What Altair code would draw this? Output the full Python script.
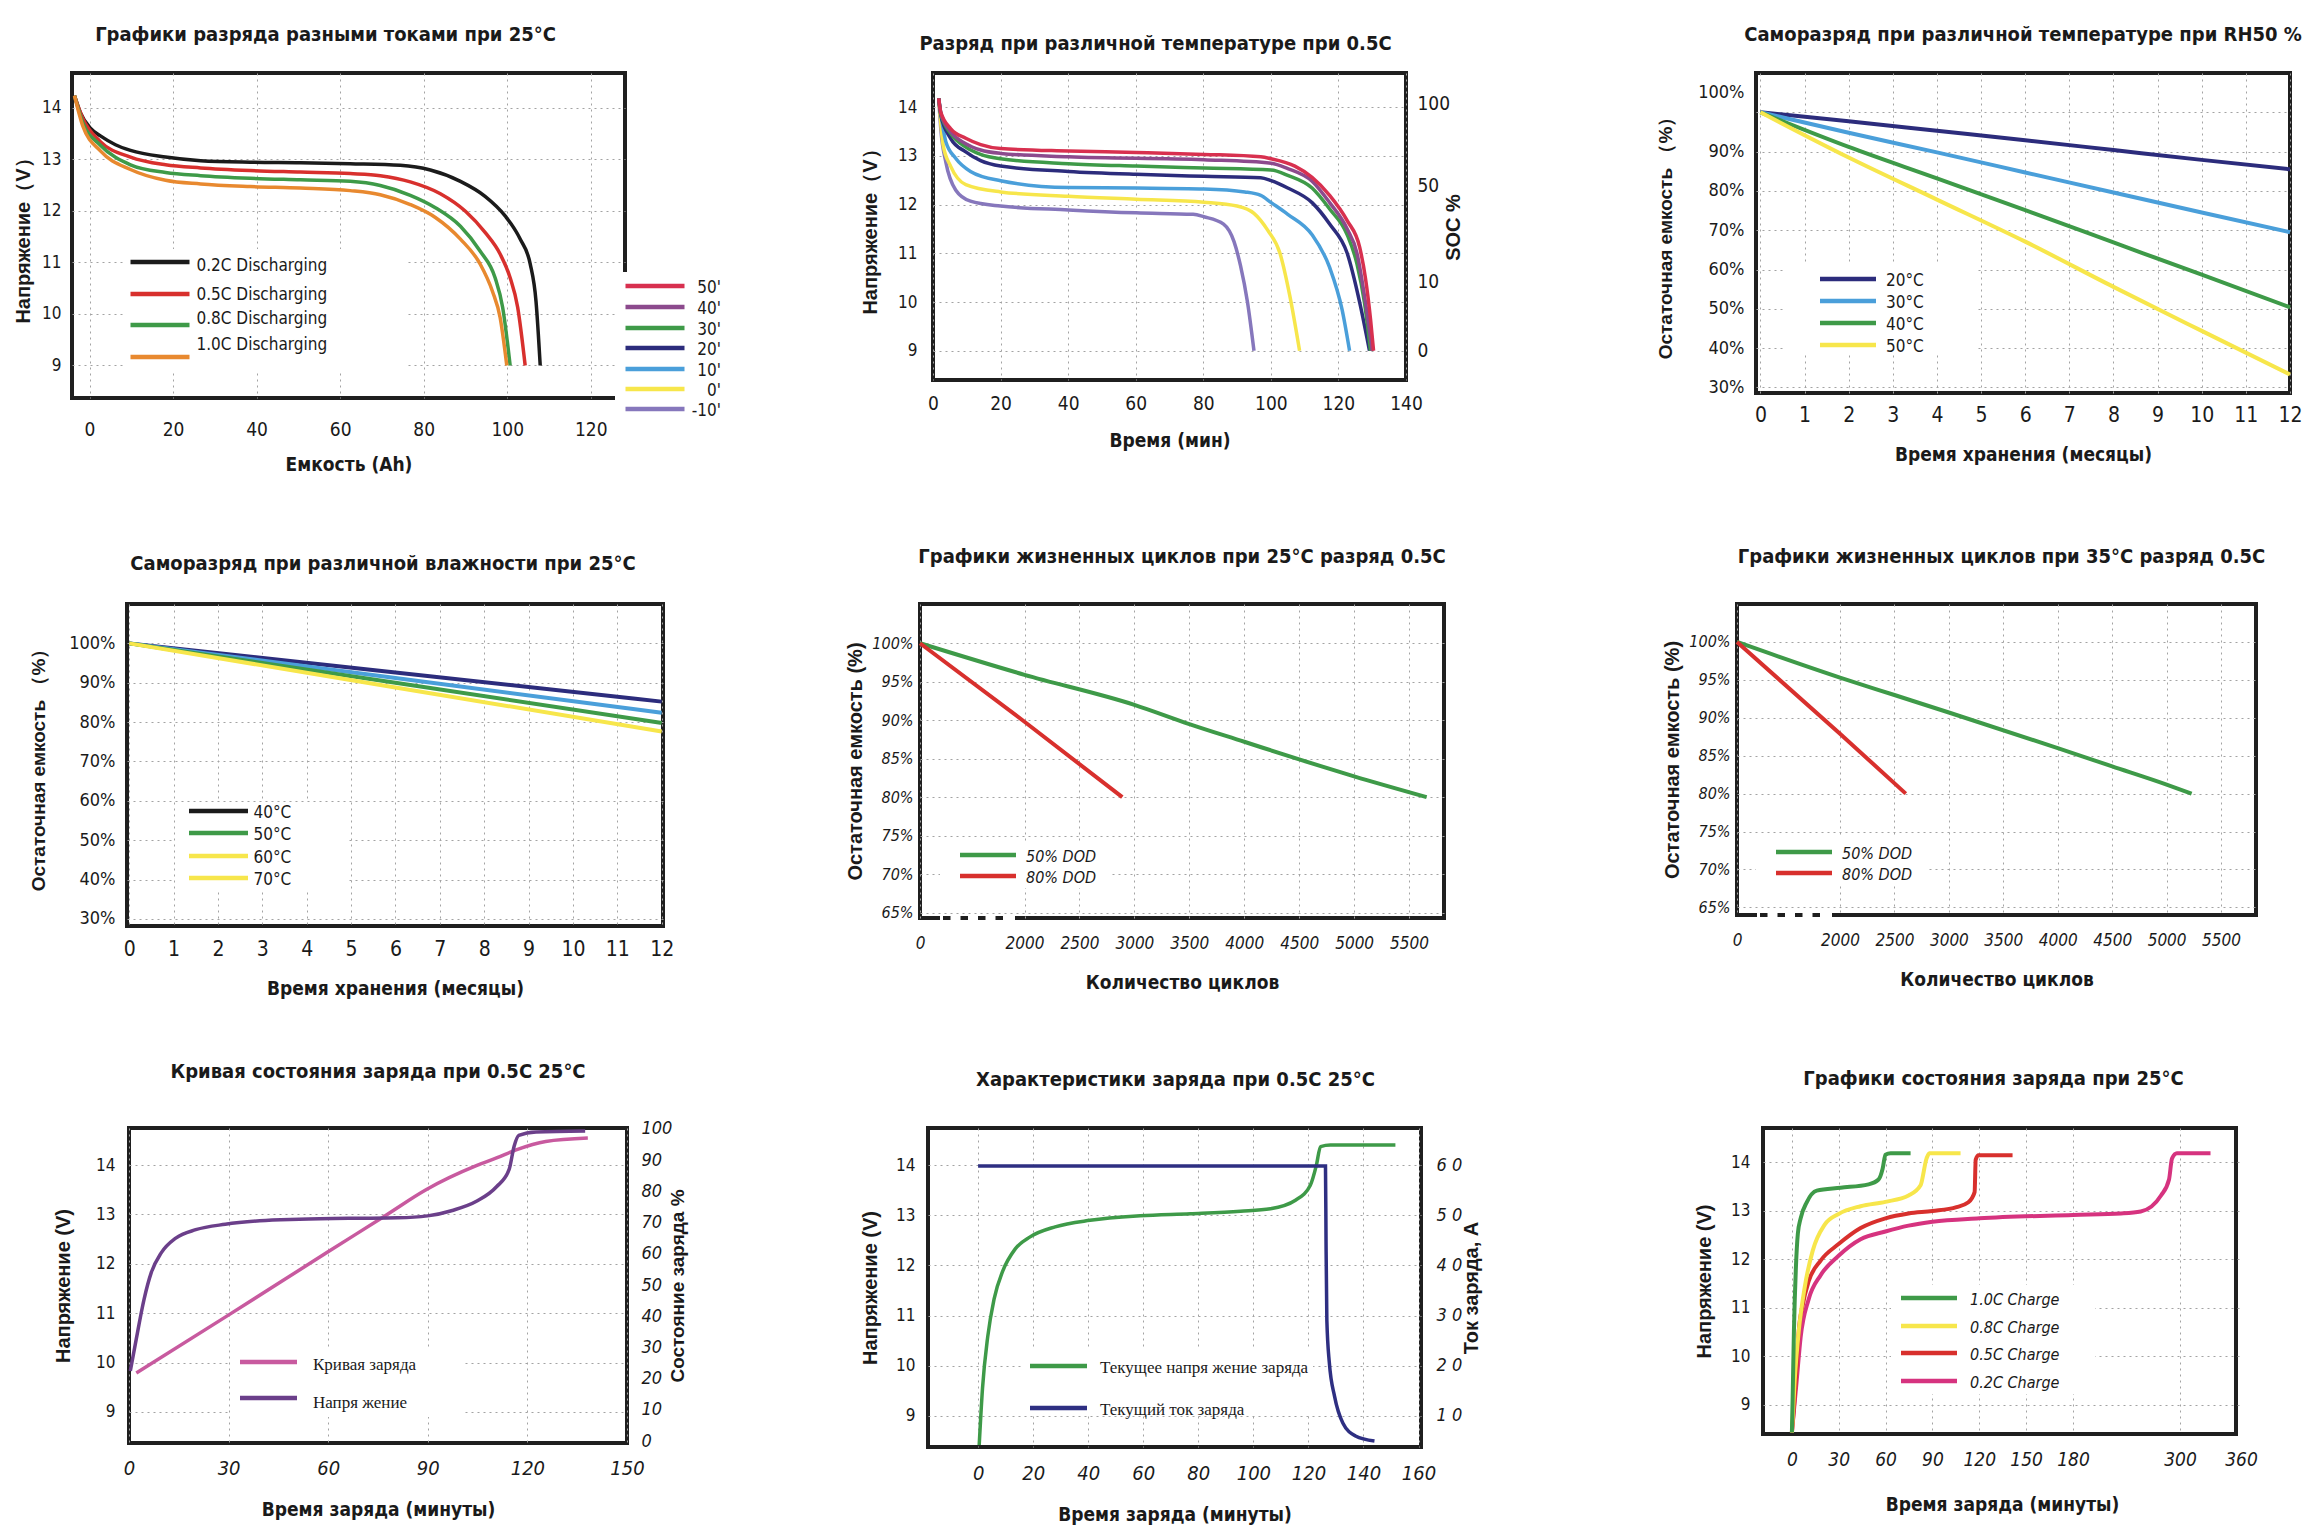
import altair as alt
import pandas as pd

COND = "DejaVu Sans Condensed, Liberation Sans Narrow, Roboto Condensed, Roboto, sans-serif"
SANSB = "Liberation Sans, Arial, DejaVu Sans, sans-serif"
SERIF = "Liberation Serif, DejaVu Serif, serif"
TXT = "#1a1a1a"
GRID = "#a3a3a3"
FRAME = "#1f1f1f"

# ---------------- Panel 1: discharge at different currents ----------------
p1_names = ["0.2C", "0.5C", "0.8C", "1.0C"]
p1_colors = ["#1b1b1b", "#d8302d", "#3e9a48", "#e8892f"]
p1_x_02 = [-3.6, -2.2, 0.2, 2.6, 6.2, 9.8, 18.2, 26.6, 38.5, 50.5, 62.4, 74.4, 81.6, 88.8, 94.7, 99.5, 103.1, 105.5, 106.9, 107.9]
p1_v_02 = [14.23, 13.9, 13.6, 13.45, 13.28, 13.17, 13.04, 12.97, 12.94, 12.93, 12.91, 12.88, 12.79, 12.57, 12.28, 11.9, 11.45, 10.97, 10.24, 9.0]
p1_x_05 = [-3.6, -1.6, 2.6, 9.8, 18.2, 26.6, 38.5, 50.5, 62.4, 69.6, 76.8, 84.0, 90.0, 94.7, 98.3, 100.7, 102.5, 104.3]
p1_v_05 = [14.23, 13.79, 13.34, 13.04, 12.89, 12.83, 12.78, 12.75, 12.72, 12.68, 12.56, 12.33, 11.99, 11.58, 11.16, 10.7, 10.13, 9.0]
p1_x_08 = [-3.6, -1.6, 2.6, 9.8, 18.2, 26.6, 38.5, 50.5, 62.4, 69.6, 76.8, 82.8, 88.8, 93.5, 97.1, 98.9, 100.7]
p1_v_08 = [14.23, 13.71, 13.27, 12.89, 12.74, 12.68, 12.63, 12.6, 12.57, 12.49, 12.3, 12.06, 11.7, 11.22, 10.7, 10.13, 9.0]
p1_x_10 = [-3.6, -1.6, 2.6, 9.8, 18.2, 26.6, 38.5, 50.5, 62.4, 69.6, 76.8, 82.8, 88.8, 93.5, 96.5, 98.3, 99.9]
p1_v_10 = [14.23, 13.64, 13.16, 12.8, 12.59, 12.52, 12.47, 12.44, 12.39, 12.31, 12.12, 11.87, 11.45, 10.97, 10.43, 9.93, 9.0]
p1_x_ticks = [0, 20, 40, 60, 80, 100, 120]
p1_y_ticks = [9, 10, 11, 12, 13, 14]
p1_legend = ["0.2C Discharging", "0.5C Discharging", "0.8C Discharging", "1.0C Discharging"]
p1_temp_labels = ["50'", "40'", "30'", "20'", "10'", "0'", "-10'"]
p1_temp_colors = ["#d8304f", "#8c4a8d", "#3e9a48", "#2c2c7c", "#4a9fda", "#f7e64b", "#8677bc"]

# ---------------- Panel 2: discharge at different temperatures ----------------
p2_names = ["-10", "0", "10", "20", "30", "40", "50"]
p2_colors = ["#8677bc", "#f7e64b", "#4a9fda", "#2c2c7c", "#3e9a48", "#8c4a8d", "#d8304f"]
p2_x_m10 = [1.7, 2.3, 3.8, 6.7, 11.1, 20, 40.1, 60.1, 77, 80.2, 86, 89.1, 91, 93.1, 95]
p2_v_m10 = [14.18, 13.56, 12.87, 12.3, 12.07, 11.97, 11.89, 11.83, 11.8, 11.75, 11.6, 11.24, 10.75, 9.99, 9.0]
p2_x_0 = [1.7, 3.0, 5.2, 9.7, 20, 40.1, 60.1, 80.2, 90, 95, 99, 102.7, 105.6, 108.5]
p2_v_0 = [14.18, 13.22, 12.79, 12.41, 12.26, 12.17, 12.11, 12.05, 11.97, 11.82, 11.48, 11.0, 10.13, 9.0]
p2_x_10 = [1.7, 3.8, 6.7, 11.1, 20, 40.1, 60.1, 80.2, 92.3, 97, 100.1, 105, 112.2, 117.4, 121.1, 123.3]
p2_v_10 = [14.18, 13.29, 12.95, 12.68, 12.49, 12.35, 12.34, 12.32, 12.26, 12.19, 12.04, 11.8, 11.38, 10.71, 9.84, 9.0]
p2_x_20 = [1.7, 2.3, 5.2, 9.7, 14.1, 20, 40.1, 60.1, 80.2, 97, 100.1, 105, 112.2, 117.4, 122.6, 126.3, 129.2]
p2_v_20 = [14.18, 13.84, 13.36, 13.08, 12.9, 12.79, 12.68, 12.62, 12.58, 12.55, 12.49, 12.34, 12.04, 11.6, 11.0, 9.99, 9.0]
p2_x_30 = [1.7, 2.3, 5.2, 9.7, 14.1, 20, 40.1, 60.1, 80.2, 100.1, 105, 112.2, 117.4, 122.6, 125.5, 127.7, 129.5]
p2_v_30 = [14.18, 13.86, 13.46, 13.18, 13.03, 12.94, 12.84, 12.79, 12.75, 12.71, 12.6, 12.34, 11.91, 11.38, 10.78, 9.99, 9.0]
p2_x_40 = [1.7, 2.3, 5.2, 9.7, 14.1, 20, 40.1, 80.2, 100.1, 105, 112.2, 117.4, 122.6, 125.5, 127.7, 130]
p2_v_40 = [14.18, 13.88, 13.5, 13.25, 13.12, 13.05, 12.98, 12.92, 12.85, 12.74, 12.48, 12.04, 11.5, 11.0, 10.13, 9.0]
p2_x_50 = [1.7, 2.3, 5.2, 9.7, 14.1, 20, 40.1, 60.1, 80.2, 97, 100.1, 107.1, 112.2, 117.4, 122.6, 126.3, 128, 129.5, 130.4]
p2_v_50 = [14.18, 13.9, 13.56, 13.36, 13.23, 13.15, 13.1, 13.07, 13.03, 12.98, 12.94, 12.79, 12.56, 12.19, 11.67, 11.12, 10.49, 9.65, 9.0]
p2_x_ticks = [0, 20, 40, 60, 80, 100, 120, 140]
p2_y_ticks = [9, 10, 11, 12, 13, 14]
p2_soc_ticks = [0, 10, 50, 100]
p2_soc_volts = [9.0, 10.42, 12.39, 14.08]

# ---------------- Panel 3: self discharge vs temperature ----------------
p3_names = ["20", "30", "40", "50"]
p3_colors = ["#2c2c7c", "#4a9fda", "#3e9a48", "#f7e64b"]
p3_months = [0, 2, 4, 6, 8, 10, 12]
p3_t20 = [100, 97.7, 95.3, 92.9, 90.4, 87.9, 85.5]
p3_t30 = [100, 94.8, 89.8, 84.7, 79.6, 74.5, 69.5]
p3_t40 = [100, 91.2, 83.2, 75.1, 66.9, 58.7, 50.4]
p3_t50 = [100, 88.5, 77.8, 67.1, 55.6, 44.4, 33.3]
p3_legend = ["20°C", "30°C", "40°C", "50°C"]
pct_ticks = [30, 40, 50, 60, 70, 80, 90, 100]
month_ticks = list(range(13))

# ---------------- Panel 4: self discharge vs humidity ----------------
p4_names = ["a", "b", "c", "d"]
p4_colors = ["#2c2c7c", "#4a9fda", "#3e9a48", "#f7e64b"]
p4_months = [0, 6, 12]
p4_h1 = [100, 92.6, 85.2]
p4_h2 = [100, 91.2, 82.4]
p4_h3 = [100, 90.0, 79.8]
p4_h4 = [100, 88.8, 77.6]
p4_legend = ["40°C", "50°C", "60°C", "70°C"]
p4_legend_colors = ["#1b1b1b", "#3e9a48", "#f7e64b", "#f7e64b"]

# ---------------- Panels 5/6: cycle life ----------------
cyc_names = ["50% DOD", "80% DOD"]
cyc_colors = ["#3e9a48", "#d8302d"]
p5_c50 = [0, 2000, 3000, 3500, 4000, 4500, 5000, 5660]
p5_r50 = [100, 95.9, 92.0, 89.5, 87.2, 84.9, 82.7, 80.0]
p5_c80 = [0, 2000, 2890]
p5_r80 = [100, 89.8, 80.0]
p6_c50 = [0, 2000, 2500, 3000, 4000, 4500, 5000, 5230]
p6_r50 = [100, 95.3, 93.0, 90.7, 86.0, 83.6, 81.2, 80.0]
p6_c80 = [0, 2000, 2604]
p6_r80 = [100, 87.9, 80.0]
cyc_x_ticks = [0, 2000, 2500, 3000, 3500, 4000, 4500, 5000, 5500]
cyc_y_ticks = [65, 70, 75, 80, 85, 90, 95, 100]
cyc_legend = ["50% DOD", "80%  DOD"]

# ---------------- Panel 7: state of charge curve ----------------
p7_t_v = [0.4, 2.2, 4.5, 6.7, 9.7, 14.1, 20.1, 29, 39.4, 51.3, 66.1, 81, 89.9, 97.4, 104.8, 110.7, 114.5, 116, 117.4, 122.6, 137.4]
p7_v = [9.83, 10.48, 11.27, 11.82, 12.22, 12.52, 12.69, 12.8, 12.87, 12.9, 12.92, 12.93, 12.97, 13.08, 13.27, 13.56, 13.91, 14.38, 14.6, 14.67, 14.69]
p7_t_soc = [2.2, 29.7, 59.6, 77.3, 89.6, 104.8, 110.7, 116.6, 125.5, 138.2]
p7_soc = [21.8, 40.2, 60.4, 72.3, 80.6, 88.3, 90.7, 93.3, 96.0, 97.1]
p7_x_ticks = [0, 30, 60, 90, 120, 150]
p7_y_ticks = [9, 10, 11, 12, 13, 14]
p7_soc_ticks = [0, 10, 20, 30, 40, 50, 60, 70, 80, 90, 100]
p7_legend = ["Кривая заряда", "Напря жение"]
p7_colors = ["#c85a9f", "#6b3f8a"]

# ---------------- Panel 8: charge characteristics ----------------
p8_t_v = [0.4, 1.6, 3.5, 5.8, 8.9, 13.5, 18.9, 28, 40.7, 58.9, 77.1, 95.3, 106.2, 115.3, 120.7, 122.9, 124.4, 128, 151.6]
p8_v = [8.42, 9.55, 10.58, 11.33, 11.88, 12.33, 12.57, 12.77, 12.9, 12.99, 13.03, 13.08, 13.13, 13.3, 13.6, 14.0, 14.37, 14.4, 14.4]
p8_t_a = [0, 126.2, 126.4, 126.7, 127.6, 129.5, 132.5, 137.1, 144]
p8_a = [59.8, 59.8, 44.7, 29.0, 20.6, 13.9, 8.6, 6.0, 5.0]
p8_x_ticks = [0, 20, 40, 60, 80, 100, 120, 140, 160]
p8_y_ticks = [9, 10, 11, 12, 13, 14]
p8_a_ticks = [10, 20, 30, 40, 50, 60]
p8_legend = ["Текущее напря жение заряда", "Текущий ток заряда"]
p8_colors = ["#3e9a48", "#2e2f82"]

# ---------------- Panel 9: charge at different currents ----------------
p9_names = ["0.2C", "0.5C", "0.8C", "1.0C"]
p9_colors = ["#d6337f", "#d8302d", "#f7e64b", "#3e9a48"]
p9_t_10 = [0, 0.5, 1.3, 2.6, 3.8, 5.6, 9.5, 15.9, 31.2, 49.1, 55.5, 58.1, 59.9, 63.2, 76]
p9_v_10 = [8.43, 9.17, 10.52, 11.85, 12.52, 12.84, 13.17, 13.41, 13.47, 13.54, 13.64, 13.86, 14.15, 14.18, 14.18]
p9_t_08 = [0, 1.8, 4.4, 8.2, 13.3, 21, 29.9, 44, 59.9, 74.7, 82.4, 86.2, 88, 108]
p9_v_08 = [8.43, 9.51, 10.52, 11.42, 12.17, 12.71, 12.93, 13.09, 13.18, 13.31, 13.52, 14.07, 14.18, 14.18]
p9_t_05 = [0, 1.8, 3.1, 4.4, 6.9, 10.7, 18.4, 29.9, 44, 59.9, 74.7, 90, 105.4, 113, 117, 117.7, 119.5, 141.3]
p9_v_05 = [8.43, 9.17, 9.85, 10.52, 11.05, 11.54, 11.97, 12.31, 12.64, 12.84, 12.94, 12.99, 13.07, 13.17, 13.38, 14.05, 14.14, 14.14]
p9_t_02 = [0, 3.1, 5.6, 10.7, 18.4, 29.9, 44, 59.9, 74.7, 90, 120, 180, 233.8, 256, 278.7, 287.7, 291, 296.6, 330]
p9_v_02 = [8.43, 9.51, 10.39, 11.17, 11.67, 12.07, 12.41, 12.57, 12.69, 12.77, 12.84, 12.91, 12.94, 12.98, 13.31, 13.64, 14.07, 14.18, 14.18]
p9_x_ticks = [0, 30, 60, 90, 120, 150, 180, 300, 360]
p9_y_ticks = [9, 10, 11, 12, 13, 14]
p9_legend = ["1.0C Charge", "0.8C Charge", "0.5C Charge", "0.2C Charge"]
p9_legend_colors = ["#3e9a48", "#f7e64b", "#d8302d", "#d6337f"]


# ---------------- helpers ----------------
def long_df(names, xs, ys):
    rows = []
    for n, xv, yv in zip(names, xs, ys):
        for k, (a, b) in enumerate(zip(xv, yv)):
            rows.append({"s": n, "x": a, "y": b, "i": k})
    return pd.DataFrame(rows)


def axis(values, title, **kw):
    base = dict(values=values, title=title, grid=True, gridDash=[2, 4], gridColor=GRID, gridWidth=1,
                domain=False, ticks=False, labelFont=COND, labelFontSize=17, labelColor=TXT,
                titleFont=SANSB, titleFontSize=19, titleFontWeight="bold", titleColor=TXT,
                labelPadding=8, titlePadding=10, labelFlush=False, labelOverlap=False)
    base.update(kw)
    return alt.Axis(**base)


def lin(domain, rng=None):
    if rng is None:
        return alt.Scale(domain=domain, nice=False, zero=False)
    return alt.Scale(domain=domain, range=rng, nice=False, zero=False)


def line_layer(df, names, colors, xs, ys, xa, ya, sw=3.5):
    return alt.Chart(df).mark_line(strokeWidth=sw, interpolate="monotone").encode(
        x=alt.X("x:Q", scale=xs, axis=xa),
        y=alt.Y("y:Q", scale=ys, axis=ya),
        color=alt.Color("s:N", scale=alt.Scale(domain=names, range=colors), legend=None),
        order="i:Q",
    )


def white_box(x1, x2, y1, y2):
    return alt.Chart(pd.DataFrame({"a": [0]})).mark_rect(color="white").encode(
        x=alt.value(x1), x2=alt.value(x2), y=alt.value(y1), y2=alt.value(y2))


def legend(labels, colors, x1, x2, tx, line_ys, text_ys, font=COND, size=17, style="normal",
           sw=4.5, align="left"):
    out = []
    for label, color, ly, ty in zip(labels, colors, line_ys, text_ys):
        d = pd.DataFrame({"t": [label]})
        out.append(alt.Chart(d).mark_rule(color=color, strokeWidth=sw, strokeCap="butt").encode(
            x=alt.value(x1), x2=alt.value(x2), y=alt.value(ly)))
        out.append(alt.Chart(d).mark_text(align=align, baseline="middle", font=font, fontSize=size,
                                          fontStyle=style, color=TXT).encode(
            x=alt.value(tx), y=alt.value(ty), text="t:N"))
    return out


def ttl(text, dx, offset):
    return alt.TitleParams(text=text, font=COND, fontSize=20, fontWeight="bold", color=TXT,
                           anchor="middle", dx=dx, offset=offset)


def panel(layers, w, h, title, indep=False):
    ch = alt.layer(*layers).properties(width=w, height=h, title=title,
                                       view=alt.ViewBackground(stroke=FRAME, strokeWidth=4))
    if indep:
        ch = ch.resolve_scale(y="independent")
    return ch


def spacer(w, h=10):
    return alt.Chart(pd.DataFrame({"a": [0]})).mark_rect(opacity=0).encode(
        x=alt.value(0), x2=alt.value(w), y=alt.value(0), y2=alt.value(h)).properties(
        width=w, height=h, view=alt.ViewBackground(stroke="transparent"))


def yaxis_pct(values, title, **kw):
    return axis(values, title, labelExpr="datum.value + '%'", **kw)


# ---------------- Panel 1 ----------------
W1, H1 = 553, 325
d1 = long_df(p1_names, [p1_x_02, p1_x_05, p1_x_08, p1_x_10], [p1_v_02, p1_v_05, p1_v_08, p1_v_10])
c1 = panel(
    [white_box(52, 333, 176, 297),
     white_box(543, 560, 199, 331),
     line_layer(d1, p1_names, p1_colors, lin([-4.2, 128.2]), lin([8.37, 14.67]),
                axis(p1_x_ticks, "Емкость (Ah)", labelFontSize=19, labelPadding=22, titlePadding=16,
                     titleFont=COND, titleFontSize=19),
                axis(p1_y_ticks, "Напряжение（V）", labelFontSize=17, labelPadding=11, titlePadding=8,
                     titleFontSize=20))]
    + legend(p1_legend, p1_colors, 58.5, 117.5, 124.5, [189, 221, 252, 284], [193, 222, 246, 272])
    + legend(p1_temp_labels, p1_temp_colors, 553.5, 612.5, 649, [213, 234, 255, 275, 296, 316, 336],
             [215, 236, 257, 277, 298, 318, 338], align="right"),
    W1, H1, ttl("Графики разряда разными токами при 25°C", -23, 28))

# ---------------- Panel 2 ----------------
W2, H2 = 473, 307
Y2 = [8.4, 14.7]
d2 = long_df(p2_names, [p2_x_m10, p2_x_0, p2_x_10, p2_x_20, p2_x_30, p2_x_40, p2_x_50],
             [p2_v_m10, p2_v_0, p2_v_10, p2_v_20, p2_v_30, p2_v_40, p2_v_50])
soc_range = [H2 * (Y2[1] - v) / (Y2[1] - Y2[0]) for v in p2_soc_volts]
c2 = panel(
    [line_layer(d2, p2_names, p2_colors, lin([0, 140]), lin(Y2),
                axis(p2_x_ticks, "Время (мин)", labelFontSize=19, labelPadding=14, titlePadding=18,
                     titleFont=COND, titleFontSize=19),
                axis(p2_y_ticks, "Напряжение（V）", labelFontSize=17, labelPadding=16, titlePadding=17,
                     titleFontSize=20)),
     alt.Chart(pd.DataFrame({"soc": p2_soc_ticks})).mark_point(opacity=0).encode(
         y=alt.Y("soc:Q", scale=lin(p2_soc_ticks, soc_range),
                 axis=axis(p2_soc_ticks, "SOC %", orient="right", grid=False, labelFontSize=19,
                           labelPadding=11, titlePadding=14, titleAngle=270, titleFontSize=20)))],
    W2, H2, ttl("Разряд при различной температуре при 0.5C", -14, 19), indep=True)

# ---------------- Panel 3 ----------------
W3, H3 = 534, 320
d3 = long_df(p3_names, [p3_months] * 4, [p3_t20, p3_t30, p3_t40, p3_t50])
c3 = panel(
    [white_box(30, 220, 192, 282),
     line_layer(d3, p3_names, p3_colors, lin([-0.1, 12.0]), lin([28.6, 110]),
                axis(month_ticks, "Время хранения (месяцы)", labelFontSize=21, labelPadding=11,
                     titlePadding=20, titleFont=COND, titleFontSize=19),
                yaxis_pct(pct_ticks, "Остаточная емкость （%）", labelFontSize=18, labelPadding=12,
                          titlePadding=22,
                          labelOffset={"condition": {"test": "datum.value == 100", "value": -20},
                                       "value": 0}),
                sw=4)]
    + legend(p3_legend, p3_colors, 64, 120, 130, [206, 228, 250, 272], [208, 230, 252, 274]),
    W3, H3, ttl("Саморазряд при различной температуре  при RH50 %", 0, 28))

# ---------------- Panel 4 ----------------
W4, H4 = 536, 322
d4 = long_df(p4_names, [p4_months] * 4, [p4_h1, p4_h2, p4_h3, p4_h4])
c4 = panel(
    [white_box(48, 222, 198, 286),
     line_layer(d4, p4_names, p4_colors, lin([-0.05, 12.03]), lin([28.2, 110]),
                axis(month_ticks, "Время хранения (месяцы)", labelFontSize=21, labelPadding=12,
                     titlePadding=20, titleFont=COND, titleFontSize=19),
                yaxis_pct(pct_ticks, "Остаточная емкость （%）", labelFontSize=18, labelPadding=12,
                          titlePadding=20),
                sw=4)]
    + legend(p4_legend, p4_legend_colors, 62, 121, 126.5, [207, 229, 252, 274], [209, 231, 254, 276]),
    W4, H4, ttl("Саморазряд при различной влажности при 25°C", -12, 30))


# ---------------- Panels 5/6 ----------------
def cycle_panel(w, h, c50, r50, c80, r80, xdom, xrng, ydom, title, dx, offset, leg_x1, leg_tx, leg_y):
    d = long_df(cyc_names, [c50, c80], [r50, r80])
    layers = [
        white_box(leg_x1 - 20, leg_x1 + 150, leg_y[0] - 14, leg_y[1] + 12),
        line_layer(d, cyc_names, cyc_colors, lin(xdom, xrng), lin(ydom),
                   axis(cyc_x_ticks, "Количество циклов", format="d", labelFontSize=17,
                        labelFontStyle="italic", labelPadding=17, titlePadding=22, titleFont=COND,
                        titleFontSize=19),
                   yaxis_pct(cyc_y_ticks, "Остаточная емкость (%)", labelFontSize=16,
                             labelFontStyle="italic", labelPadding=7, titlePadding=6, titleFontSize=20),
                   sw=4),
        alt.Chart(pd.DataFrame({"a": [0]})).mark_rule(color="white", strokeWidth=6).encode(
            x=alt.value(20), x2=alt.value(95), y=alt.value(h)),
        alt.Chart(pd.DataFrame({"a": [0]})).mark_rule(color=FRAME, strokeWidth=4, strokeDash=[7.5, 10]).encode(
            x=alt.value(23), x2=alt.value(93), y=alt.value(h)),
    ]
    layers += legend(cyc_legend, cyc_colors, leg_x1, leg_x1 + 56, leg_tx, leg_y, [leg_y[0] + 2, leg_y[1] + 2],
                     size=16, style="italic")
    return panel(layers, w, h, ttl(title, dx, offset))


W5, H5 = 524, 314
c5 = cycle_panel(W5, H5, p5_c50, p5_r50, p5_c80, p5_r80, [0, 2000, 5818], [0, 104.5, W5],
                 [64.3, 105.1], "Графики жизненных циклов при 25°C  разряд 0.5C", 0, 37, 40, 106, [251, 272])
W6, H6 = 519, 311
c6 = cycle_panel(W6, H6, p6_c50, p6_r50, p6_c80, p6_r80, [0, 2000, 5821], [0, 103, W6],
                 [64.0, 105.0], "Графики жизненных циклов при 35°C разряд 0.5C", 5, 37, 39, 105, [248, 269])

# ---------------- Panel 7 ----------------
W7, H7 = 498, 315
d7v = long_df(["v"], [p7_t_v], [p7_v])
d7s = long_df(["s"], [p7_t_soc], [p7_soc])
xs7 = lin([0, 150])
xa7 = axis(p7_x_ticks, "Время заряда (минуты)", labelFontSize=20, labelFontStyle="italic", labelPadding=15,
           titlePadding=22, titleFont=COND, titleFontSize=19)
c7 = panel(
    [white_box(102, 335, 220, 289),
     alt.Chart(d7s).mark_line(strokeWidth=3.5, interpolate="monotone", color=p7_colors[0]).encode(
         x=alt.X("x:Q", scale=xs7, axis=xa7),
         y=alt.Y("y:Q", scale=lin([-0.6, 100.3]),
                 axis=axis(p7_soc_ticks, "Состояние заряда %", orient="right", grid=False, labelFontSize=18,
                           labelFontStyle="italic", labelPadding=14, titlePadding=16, titleAngle=270)),
         order="i:Q"),
     alt.Chart(d7v).mark_line(strokeWidth=3.5, interpolate="monotone", color=p7_colors[1]).encode(
         x=alt.X("x:Q", scale=xs7, axis=xa7),
         y=alt.Y("y:Q", scale=lin([8.37, 14.75]),
                 axis=axis(p7_y_ticks, "Напряжение (V)", orient="left", labelFontSize=17, labelPadding=14,
                           titlePadding=22, titleFontSize=20)),
         order="i:Q")]
    + legend(p7_legend, p7_colors, 111, 168, 184, [234, 270], [237, 275], font=SERIF, size=17),
    W7, H7, ttl("Кривая состояния заряда при 0.5C  25°C", 0, 38), indep=True)

# ---------------- Panel 8 ----------------
W8, H8 = 493, 319
d8v = long_df(["v"], [p8_t_v], [p8_v])
d8a = long_df(["a"], [p8_t_a], [p8_a])
xs8 = lin([-18.2, 160.9])
xa8 = axis(p8_x_ticks, "Время заряда (минуты)", labelFontSize=20, labelFontStyle="italic", labelPadding=16,
           titlePadding=22, titleFont=COND, titleFontSize=19)
c8 = panel(
    [white_box(95, 385, 222, 287),
     alt.Chart(d8v).mark_line(strokeWidth=3.5, interpolate="monotone", color=p8_colors[0]).encode(
         x=alt.X("x:Q", scale=xs8, axis=xa8),
         y=alt.Y("y:Q", scale=lin([8.38, 14.74]),
                 axis=axis(p8_y_ticks, "Напряжение (V)", orient="left", labelFontSize=17, labelPadding=13,
                           titlePadding=15, titleFontSize=20)),
         order="i:Q"),
     alt.Chart(d8a).mark_line(strokeWidth=3.5, interpolate="monotone", color=p8_colors[1]).encode(
         x=alt.X("x:Q", scale=xs8, axis=xa8),
         y=alt.Y("y:Q", scale=lin([3.8, 67.4]),
                 axis=axis(p8_a_ticks, "Ток заряда, А", orient="right", grid=False, labelFontSize=18,
                           labelFontStyle="italic", labelPadding=15, titlePadding=20, titleAngle=270,
                           titleFontSize=20,
                           labelExpr="substring(datum.label, 0, 1) + ' ' + substring(datum.label, 1)")),
         order="i:Q")]
    + legend(p8_legend, p8_colors, 102, 159, 172, [238, 280], [240, 282], font=SERIF, size=17),
    W8, H8, ttl("Характеристики заряда при 0.5C  25°C", 1, 38), indep=True)

# ---------------- Panel 9 ----------------
W9, H9 = 473, 306
d9 = long_df(p9_names, [p9_t_02, p9_t_05, p9_t_08, p9_t_10], [p9_v_02, p9_v_05, p9_v_08, p9_v_10])
c9 = panel(
    [white_box(128, 332, 157, 266),
     line_layer(d9, p9_names, p9_colors, lin([-18.5, 180, 300, 360], [0, 310, 417, 478]),
                lin([8.4, 14.7]),
                axis(p9_x_ticks, "Время заряда (минуты)", labelFontSize=19, labelFontStyle="italic",
                     labelPadding=16, titlePadding=26, titleFont=COND, titleFontSize=19,
                     gridOpacity={"condition": {"test": "datum.value == 360", "value": 0}, "value": 1}),
                axis(p9_y_ticks, "Напряжение (V)", labelFontSize=17, labelPadding=13, titlePadding=16,
                     titleFontSize=20),
                sw=4)]
    + legend(p9_legend, p9_legend_colors, 138, 194, 207, [170, 198, 225, 253], [172, 200, 227, 255],
             size=16, style="italic"),
    W9, H9, ttl("Графики состояния заряда при 25°C", -6, 39))

# ---------------- layout ----------------
def row(cells):
    return alt.hconcat(*cells, spacing=0).properties(bounds="flush").resolve_scale(color="independent")


row1 = row([spacer(63), c1, spacer(308), c2, spacer(350), c3])
row2 = row([spacer(118), c4, spacer(257), c5, spacer(293), c6])
row3 = row([spacer(120), c7, spacer(301), c8, spacer(342), c9])

chart = alt.vconcat(row1, spacer(10, 67), row2, spacer(10, 57), row3, spacing=0).properties(
    padding={"left": 0, "top": 15, "right": 0, "bottom": 0},
    background="white",
).resolve_scale(color="independent").configure_view(stroke="transparent")

chart.save("out.html", embed_options={"renderer": "svg", "actions": False})
